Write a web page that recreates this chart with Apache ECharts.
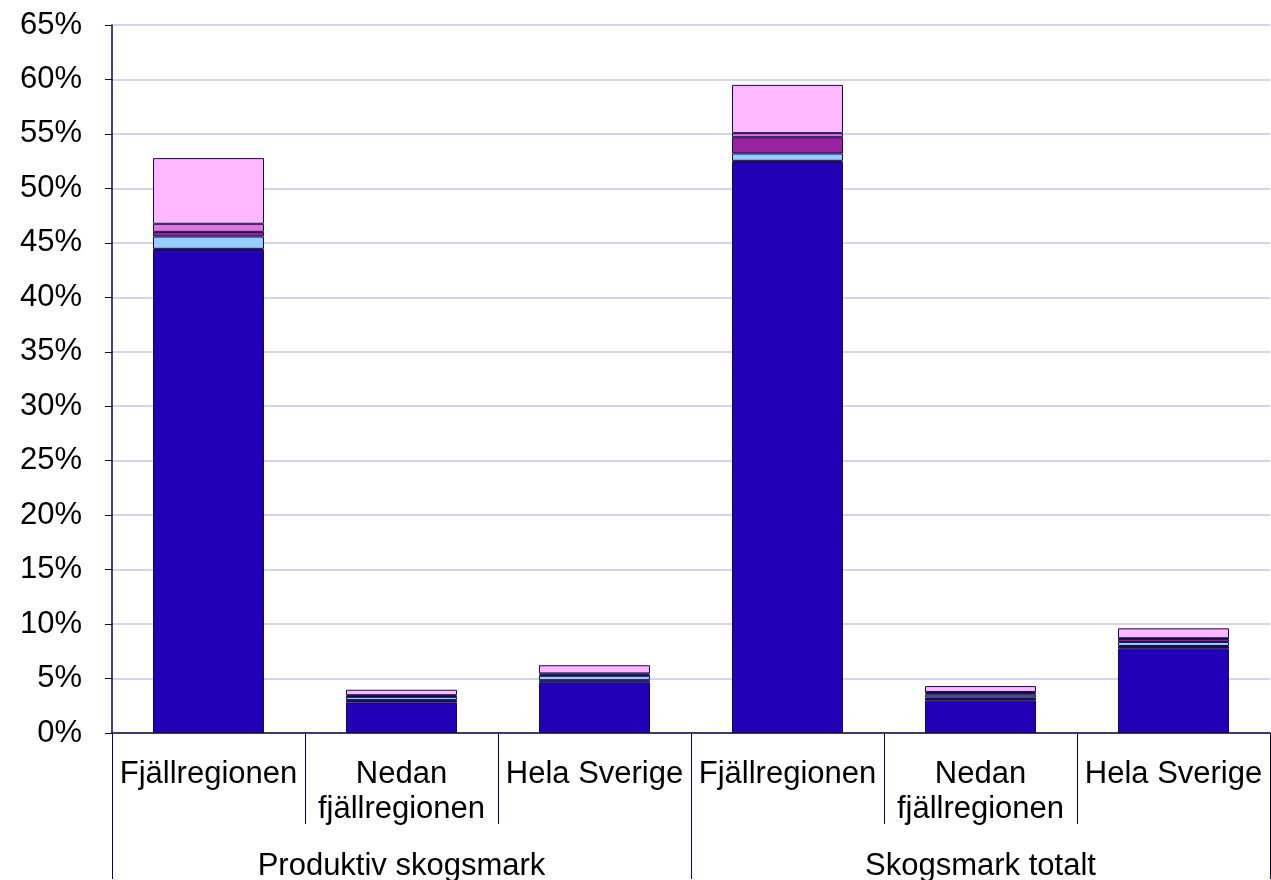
<!DOCTYPE html>
<html>
<head>
<meta charset="utf-8">
<script src="https://cdn.jsdelivr.net/npm/echarts@6/dist/echarts.min.js"></script>
<style>
html,body{margin:0;padding:0;background:#fff;}
#c{width:1271px;height:880px;}
</style>
</head>
<body>
<div id="c"></div>
<script>
var categories = ['Fjällregionen', 'Nedan\nfjällregionen', 'Hela Sverige', 'Fjällregionen', 'Nedan\nfjällregionen', 'Hela Sverige'];
var groups = ['Produktiv skogsmark', 'Skogsmark totalt'];
var s1 = [44.35, 2.80, 4.65, 52.43, 2.97, 7.74];
var s2 = [0.10, 0.22, 0.20, 0.10, 0.30, 0.25];
var s3 = [1.13, 0.30, 0.40, 0.67, 0.25, 0.37];
var s4 = [0.43, 0.05, 0.10, 1.50, 0.14, 0.28];
var s5 = [0.74, 0.10, 0.12, 0.37, 0.10, 0.06];
var s6 = [6.03, 0.50, 0.75, 4.43, 0.55, 0.91];
var colors = ['#2200B8', '#1C0E66', '#99CCFF', '#9922A0', '#DD77DD', '#FFB8FF'];
var seriesData = [s1, s2, s3, s4, s5, s6];

var chart = echarts.init(document.getElementById('c'));
var axisColor = '#0A0640';
var font = 'Liberation Sans, Arial, sans-serif';
var series = seriesData.map(function (d, i) {
  return {
    type: 'bar',
    stack: 'a',
    data: d,
    barWidth: '57.5%',
    itemStyle: { color: colors[i], borderColor: '#140A48', borderWidth: 1 },
    xAxisIndex: 0
  };
});
chart.setOption({
  animation: false,
  grid: { left: 112, right: 1, top: 25, bottom: 147, containLabel: false, outerBoundsMode: 'none' },
  xAxis: [
    {
      type: 'category',
      data: categories,
      position: 'bottom',
      axisLine: { lineStyle: { color: axisColor, width: 1.5 } },
      axisTick: { show: true, length: 91, lineStyle: { color: axisColor, width: 1 } },
      axisLabel: { interval: 0, margin: 24, color: '#000', fontSize: 31, fontFamily: font, lineHeight: 35 }
    },
    {
      type: 'category',
      data: groups,
      position: 'bottom',
      axisLine: { show: false },
      axisTick: { show: true, length: 146, lineStyle: { color: axisColor, width: 1 } },
      axisLabel: { interval: 0, margin: 118, color: '#000', fontSize: 31, fontFamily: font }
    }
  ],
  yAxis: {
    type: 'value',
    min: 0,
    max: 65,
    interval: 5,
    axisLine: { show: true, lineStyle: { color: axisColor, width: 1.5 } },
    axisTick: { show: true, length: 7, lineStyle: { color: axisColor } },
    axisLabel: { formatter: '{value}%', color: '#000', fontSize: 31, fontFamily: font, margin: 30 },
    splitLine: { lineStyle: { color: '#D4D4EE', width: 2 } }
  },
  series: series
});
</script>
</body>
</html>
